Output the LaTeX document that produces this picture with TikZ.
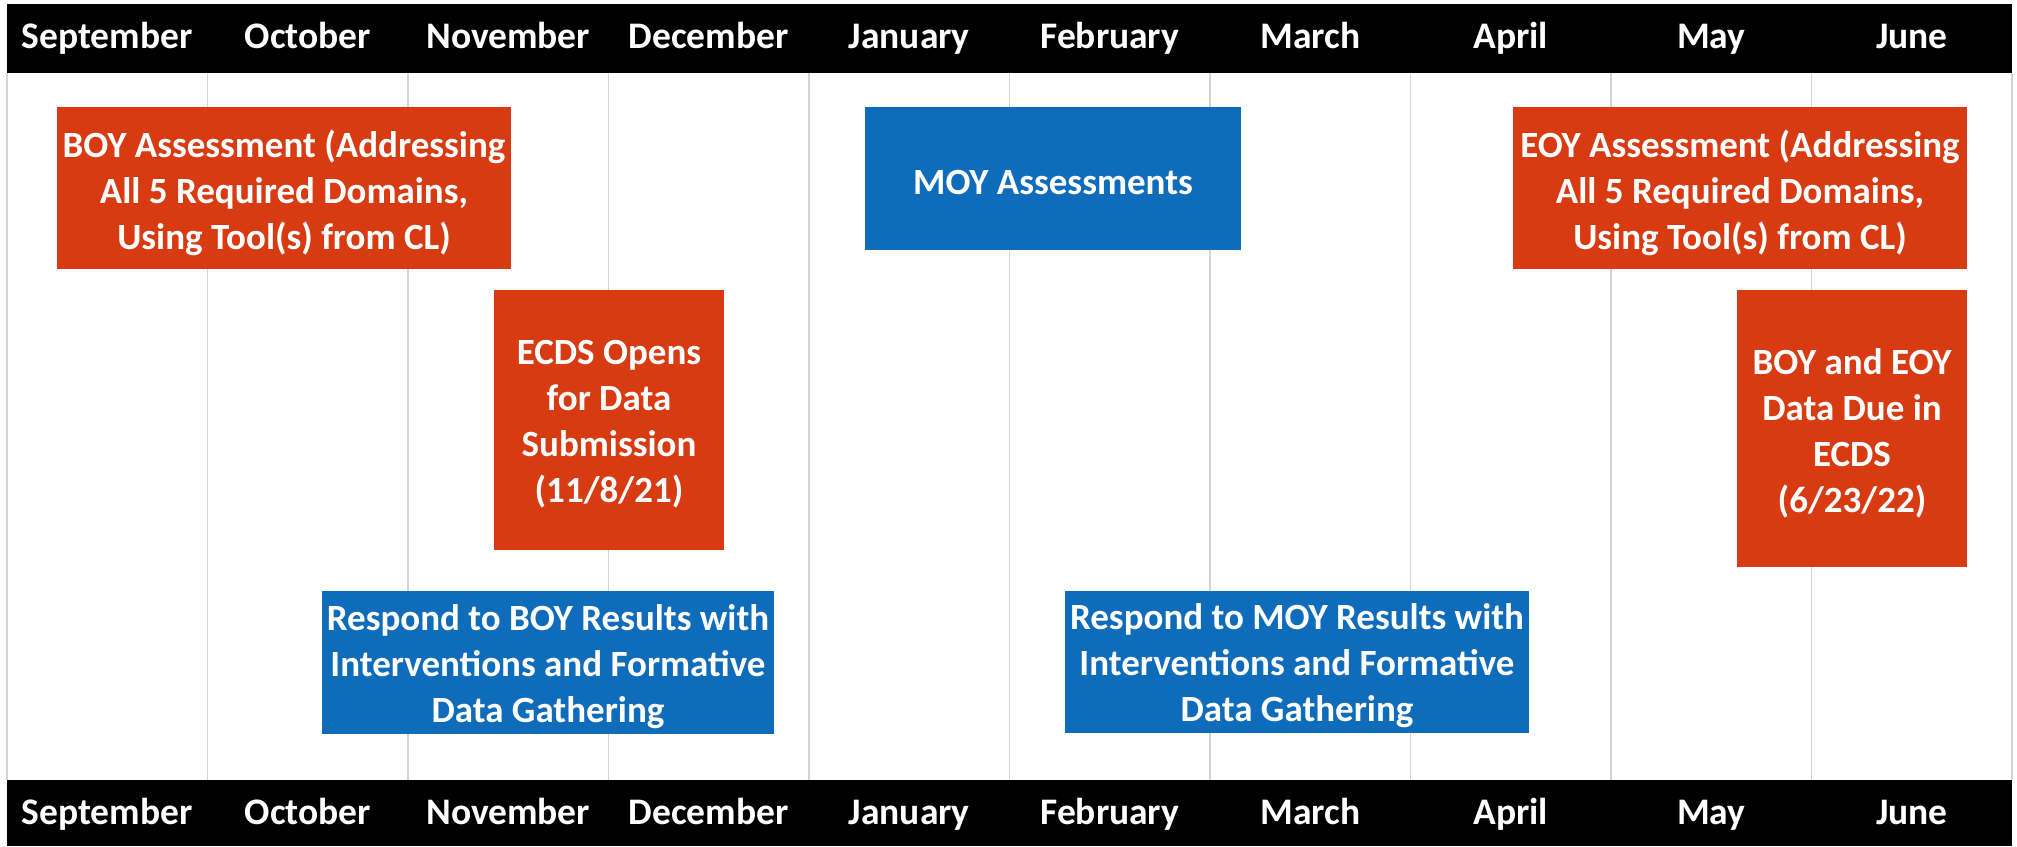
\documentclass[tikz,border=0pt]{standalone}
\usepackage{fontspec}
\setmainfont{Carlito}
\definecolor{boxorange}{RGB}{216,59,18}
\definecolor{boxblue}{RGB}{15,108,186}
\definecolor{gridgray}{RGB}{212,212,212}
\tikzset{
  month/.style={text=white, font=\fontsize{37.5}{44}\selectfont\bfseries, anchor=base, inner sep=0pt},
  evbox/.style={inner sep=0pt, draw=none},
  orangebox/.style={evbox, fill=boxorange},
  bluebox/.style={evbox, fill=boxblue},
  boxtext/.style={text=white, font=\fontsize{37}{46}\selectfont\bfseries, align=center, inner sep=0pt},
  gridline/.style={draw=gridgray, line width=1.6pt},
  band/.style={fill=black, draw=none}
}
\begin{document}
\begin{tikzpicture}[x=1pt,y=-1pt]
\useasboundingbox[fill=white] (0,0) rectangle (2017,846);
% grid lines
\foreach \i in {0,...,10} {
  \coordinate (gt\i) at ({7+200.5*\i},73);
  \coordinate (gb\i) at ({7+200.5*\i},780);
  \draw[gridline] (gt\i) -- (gb\i);
}
% bands
\node[band, minimum width=2005pt, minimum height=69pt, inner sep=0pt, anchor=north west] (topband) at (7,4) {};
\node[band, minimum width=2005pt, minimum height=66pt, inner sep=0pt, anchor=north west] (botband) at (7,780) {};
% month labels
\foreach \m [count=\i from 0] in {September,October,November,December,January,February,March,April,May,June} {
  \node[month] (mt\i) at ({107.25+200.5*\i},48) {\m};
  \node[month] (mb\i) at ({107.25+200.5*\i},824) {\m};
}
% event boxes
\node[orangebox, minimum width=454pt, minimum height=162pt] (boy) at (284,188) {};
\node[boxtext] (boyt) at ([yshift=-4.5pt]boy.center)
  {BOY Assessment (Addressing\\All 5 Required Domains,\\Using Tool(s) from CL)};
\node[bluebox, minimum width=376pt, minimum height=143pt] (moy) at (1053,178.5) {};
\node[boxtext] (moyt) at ([yshift=-4pt]moy.center) {MOY Assessments};
\node[orangebox, minimum width=454pt, minimum height=162pt] (eoy) at (1740,188) {};
\node[boxtext] (eoyt) at ([yshift=-4.5pt]eoy.center)
  {EOY Assessment (Addressing\\All 5 Required Domains,\\Using Tool(s) from CL)};
\node[orangebox, minimum width=230pt, minimum height=260pt] (ecds) at (609,420) {};
\node[boxtext] (ecdst) at ([yshift=-4pt]ecds.center)
  {ECDS Opens\\for Data\\Submission\\(11/8/21)};
\node[orangebox, minimum width=230pt, minimum height=277pt] (due) at (1852,428.5) {};
\node[boxtext] (duet) at ([yshift=-4.5pt]due.center)
  {BOY and EOY\\Data Due in\\ECDS\\(6/23/22)};
\node[bluebox, minimum width=452pt, minimum height=143pt] (rboy) at (548,662.5) {};
\node[boxtext] (rboyt) at ([yshift=-4pt]rboy.center)
  {Respond to BOY Results with\\Interventions and Formative\\Data Gathering};
\node[bluebox, minimum width=464pt, minimum height=142pt] (rmoy) at (1297,662) {};
\node[boxtext] (rmoyt) at ([yshift=-4pt]rmoy.center)
  {Respond to MOY Results with\\Interventions and Formative\\Data Gathering};
\end{tikzpicture}
\end{document}
